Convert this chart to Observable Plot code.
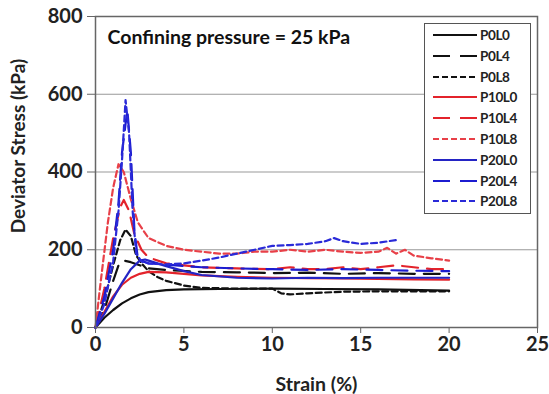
<!DOCTYPE html>
<html>
<head>
<meta charset="utf-8">
<script src="https://cdn.jsdelivr.net/npm/d3@7"></script>
<script src="https://cdn.jsdelivr.net/npm/@observablehq/plot@0.6"></script>
<style>
  html, body { margin: 0; padding: 0; background: #fff; }
  #wrap { position: relative; width: 549px; height: 394px; font-family: Lato, "Open Sans", sans-serif; }
  #legend { position: absolute; left: 424px; top: 23px; width: 107px; height: 191px; border: 1.5px solid #555; background: #fff; box-sizing: border-box; }
  .row { position: absolute; left: 0; height: 20px; display: flex; align-items: center; }
  .row svg { margin-left: 8px; }
  .row span { font-weight: 700; font-size: 13.5px; letter-spacing: -0.4px; margin-left: 3px; color: #222; }
</style>
</head>
<body>
<div id="wrap"><div id="chart"></div><div id="legend"></div></div>
<script>
// Strain (%) vs deviator stress (kPa)
const P0L0 = [[0,0],[0.5,25],[1,45],[1.5,62],[2,75],[2.5,85],[3,91],[4,96],[5,98],[7,99],[10,100],[13,99],[16,98],[20,95]];
const P0L4 = [[0,0],[0.5,45],[1,120],[1.3,160],[1.6,172],[2,168],[2.5,160],[3,152],[4,148],[6,143],[8,142],[10,140],[12,141],[14,138],[16,140],[18,138],[20,138]];
const P0L8 = [[0,0],[0.5,70],[1,160],[1.4,225],[1.7,252],[2,235],[2.3,185],[2.7,160],[3,145],[3.5,130],[4,120],[5,108],[6,102],[8,100],[10,100],[10.5,88],[11,85],[12,88],[14,92],[16,93],[18,93],[20,93]];
const P10L0 = [[0,0],[0.5,40],[1,80],[1.5,110],[2,128],[2.5,138],[3,143],[4,142],[5,138],[6,134],[8,130],[10,128],[12,127],[14,126],[16,125],[18,124],[20,123]];
const P10L4 = [[0,0],[0.5,100],[1,230],[1.4,310],[1.6,328],[1.9,300],[2.2,240],[2.6,200],[3,180],[4,165],[5,160],[6,155],[8,152],[10,150],[11,155],[12,150],[13,150],[14,155],[15,150],[16,155],[17,160],[18,155],[19,150],[20,150]];
const P10L8 = [[0,0],[0.3,120],[0.7,270],[1,360],[1.3,420],[1.6,400],[2,330],[2.4,270],[3,230],[4,210],[5,200],[6,195],[7,190],[8,190],[9,195],[10,195],[11,200],[12,195],[13,200],[14,195],[15,192],[16,195],[16.5,205],[17,190],[17.5,200],[18,185],[19,178],[20,172]];
const P20L0 = [[0,0],[0.5,35],[1,75],[1.5,115],[2,150],[2.5,172],[2.8,175],[3,172],[4,158],[5,145],[6,135],[8,128],[10,126],[12,128],[14,127],[16,128],[18,128],[20,128]];
const P20L4 = [[0,0],[0.5,80],[1,200],[1.3,320],[1.5,450],[1.8,560],[2,450],[2.2,250],[2.4,175],[3,165],[4,162],[5,158],[6,155],[8,152],[10,150],[12,148],[14,150],[16,148],[18,146],[20,145]];
const P20L8 = [[0,0],[0.5,60],[1,170],[1.3,300],[1.5,430],[1.7,585],[1.9,500],[2.1,300],[2.3,190],[2.6,170],[3,165],[4,162],[5,165],[6,172],[7,180],[8,190],[9,200],[10,210],[11,212],[12,215],[13,222],[13.5,230],[14,222],[15,215],[16,218],[17,225]];

const seriesNames = ["P0L0","P0L4","P0L8","P10L0","P10L4","P10L8","P20L0","P20L4","P20L8"];
const seriesData = [P0L0,P0L4,P0L8,P10L0,P10L4,P10L8,P20L0,P20L4,P20L8];
const xTicks = [0,5,10,15,20,25];
const yTicks = [0,200,400,600,800];
const titleText = "Confining pressure = 25 kPa";

const colors = ["#111","#111","#111","#e3232b","#e3232b","#e84048","#2424c4","#1c1cd0","#2a2ad8"];
const dashes = [null,"16,9","6,3.5",null,"16,9","6,3.5",null,"16,9","6,3.5"];

const rows = [];
seriesData.forEach((d,i) => d.forEach(([x,y]) => rows.push({series: seriesNames[i], idx: i, x, y})));

const lineMarks = seriesNames.map((name,i) =>
  Plot.line(rows.filter(r => r.idx === i), {x:"x", y:"y", stroke: colors[i], strokeWidth: 2.2, strokeDasharray: dashes[i]})
);

const chart = Plot.plot({
  width: 549, height: 394,
  marginLeft: 95, marginRight: 12, marginTop: 16, marginBottom: 67,
  style: {fontFamily: "Lato, 'Open Sans', sans-serif", fontSize: "19px", fontWeight: 700, color: "#222", background: "#fff"},
  x: {domain: [0,25], ticks: xTicks, label: null},
  y: {domain: [0,800], ticks: yTicks, label: null, grid: false},
  marks: [
    Plot.gridY(yTicks.slice(1,4), {stroke: "#999", strokeOpacity: 1, strokeWidth: 1.2}),
    Plot.axisX({ticks: xTicks, tickSize: 6, tickPadding: 3, stroke: "#666", fontSize: 20, fontWeight: 700, label: null}),
    Plot.axisY({ticks: yTicks, tickSize: 8, tickPadding: 5, stroke: "#666", fontSize: 20, fontWeight: 700, label: null}),
    ...lineMarks,
    Plot.frame({stroke: "#666", strokeWidth: 1.5}),
    Plot.text([titleText], {frameAnchor: "top-left", dx: 12, dy: 14, fontSize: 19.5, fontWeight: 700, fill: "#111"}),
    Plot.text(["Strain (%)"], {frameAnchor: "bottom", dy: 63, fontSize: 19.5, fontWeight: 700, fill: "#222"}),
    Plot.text(["Deviator Stress (kPa)"], {frameAnchor: "left", textAnchor: "middle", dx: -77, dy: -26, rotate: -90, fontSize: 19, fontWeight: 700, fill: "#222"})
  ]
});
document.getElementById("chart").appendChild(chart);

// legend
const legend = document.getElementById("legend");
seriesNames.forEach((name,i) => {
  const row = document.createElement("div");
  row.className = "row";
  row.style.top = (1 + i*20.8) + "px";
  const svg = d3.create("svg").attr("width", 44).attr("height", 6);
  svg.append("line").attr("x1",0).attr("x2",44).attr("y1",3).attr("y2",3)
    .attr("stroke", colors[i]).attr("stroke-width", 2.2)
    .attr("stroke-dasharray", dashes[i] ? (i%3===1 ? "17,10" : "6,3") : null);
  row.appendChild(svg.node());
  const s = document.createElement("span"); s.textContent = name; row.appendChild(s);
  legend.appendChild(row);
});
</script>
</body>
</html>
